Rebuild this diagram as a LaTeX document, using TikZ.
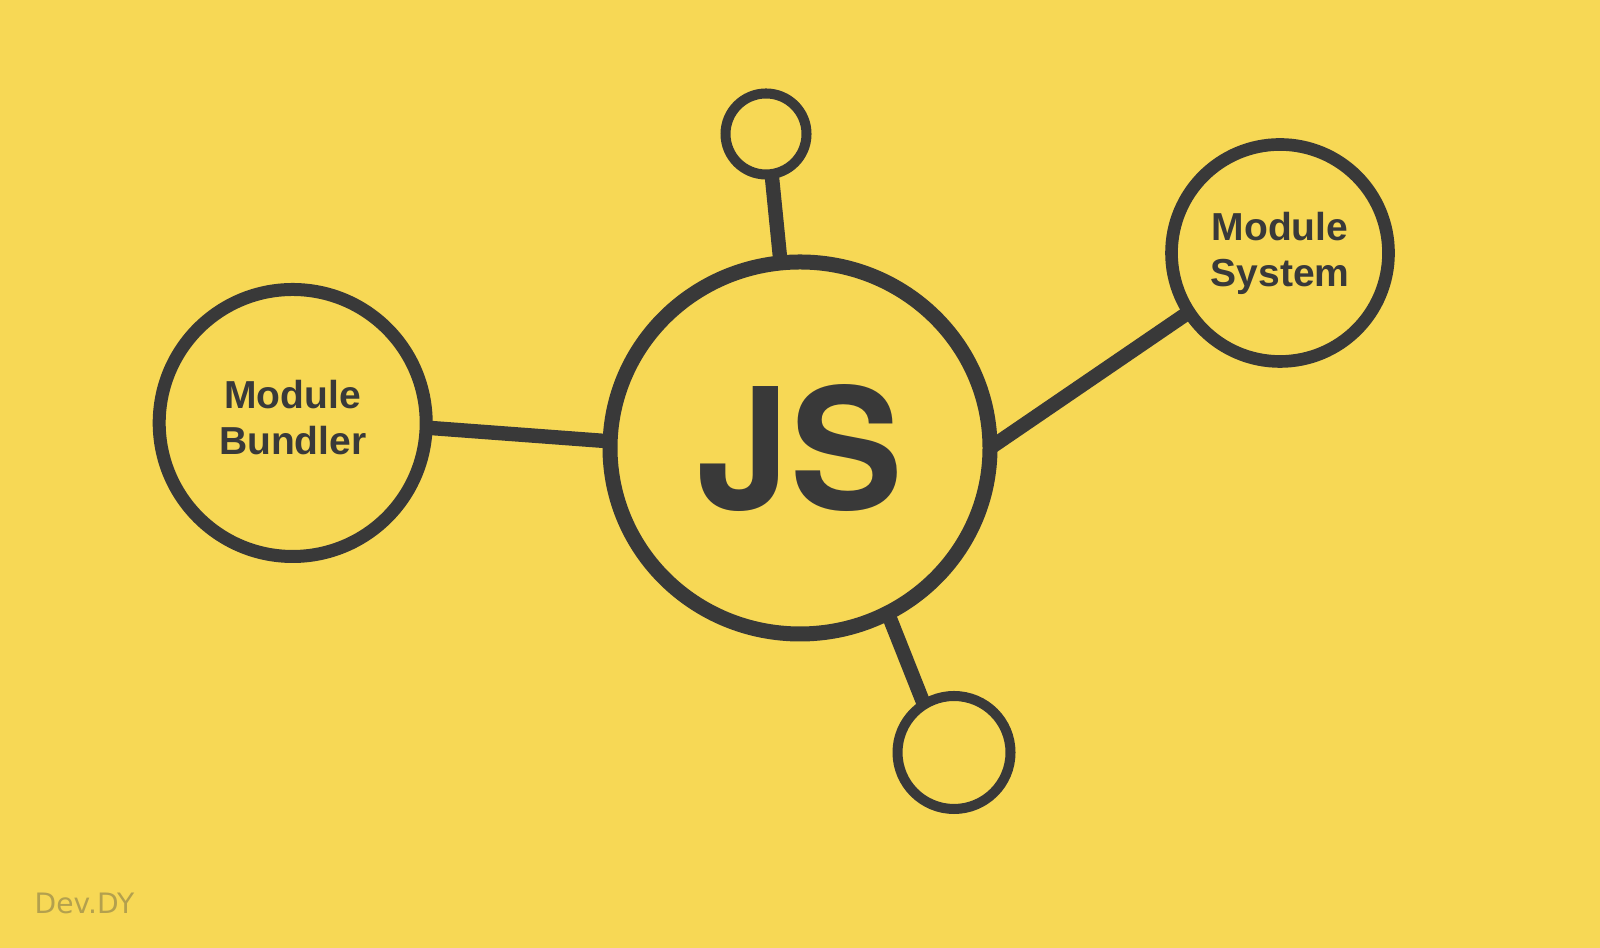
\documentclass[tikz,border=0pt]{standalone}
\usepackage{fontspec}
\setmainfont{Liberation Sans}
\newfontfamily\signfont{DejaVu Sans}
\newfontfamily\jsfont{TeX Gyre Heros}
\usetikzlibrary{shapes.geometric}

\definecolor{bg}{HTML}{F7D855}
\definecolor{ink}{HTML}{393939}
\definecolor{sign}{HTML}{B3A04E}

\tikzset{
  ball/.style={circle, draw=ink, text=ink, inner sep=0pt, outer sep=0pt},
  link/.style={ink, line width=4.1pt}
}

\begin{document}
\begin{tikzpicture}
      \fill[bg] (0,0) rectangle (16,9.48);

      % Nodes
      \node[ball, ellipse, line width=4.27pt, minimum width=3.80cm, minimum height=3.72cm,
            font=\jsfont\bfseries\fontsize{48}{50}\selectfont] (js) at (8.00, 5.00) {JS};
      \node[ball, line width=3.7pt, minimum size=2.67cm, align=center, text depth=3pt,
            font=\bfseries\fontsize{11.1}{13.1}\selectfont] (mb) at (2.927, 5.25) {Module\\Bundler};
      \node[ball, line width=3.6pt, minimum size=2.17cm, align=center,
            font=\bfseries\fontsize{11.1}{13.1}\selectfont] (ms) at (12.80, 6.95) {Module\\System};
      \node[ball, line width=2.85pt, minimum size=0.81cm] (t) at (7.66, 8.14) {};
      \node[ball, line width=2.85pt, minimum size=1.13cm] (b) at (9.54, 1.955) {};
      \node[text=sign, anchor=base west, inner sep=0pt,
            font=\signfont\fontsize{8}{10}\selectfont] (sig) at (0.34, 0.347) {Dev.DY};

      % Edges
      \path[link] (js.178.5) edge (mb.-2.5)
                  (js.-0.5)  edge (ms.213)
                  (js.96.2)  edge (t.-82.2)
                  (js.-62.8) edge (b.122);

    \end{tikzpicture}
\end{document}
